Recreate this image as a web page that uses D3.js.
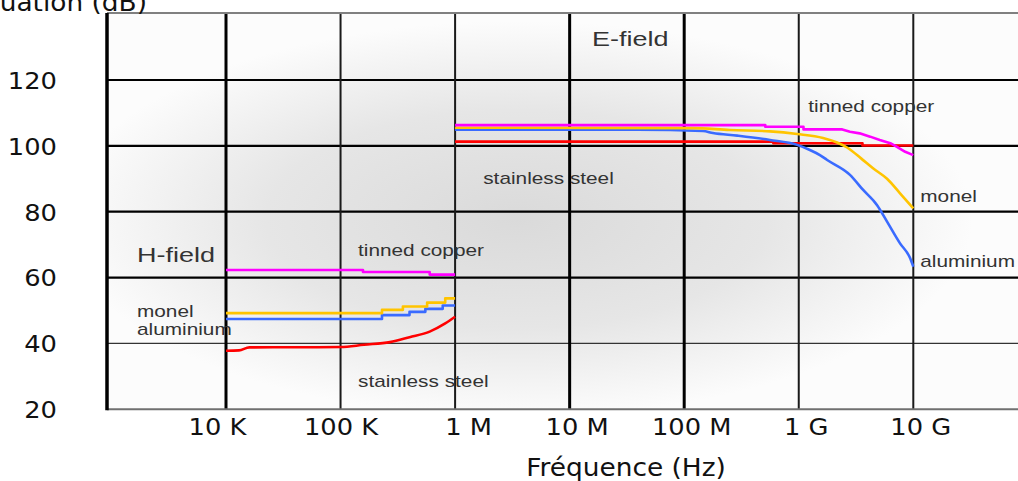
<!DOCTYPE html>
<html>
<head>
<meta charset="utf-8">
<script src="https://cdn.jsdelivr.net/npm/d3@7"></script>
<style>
  body { margin: 0; background: #fff; }
  svg { display: block; }
</style>
</head>
<body>
<svg id="chart" width="1018" height="481"></svg>
<script>
// Frequencies in Hz, attenuation in dB.
const freqTicks = [1e4, 1e5, 1e6, 1e7, 1e8, 1e9, 1e10];
const freqTickLabels = ['10 K', '100 K', '1 M', '10 M', '100 M', '1 G', '10 G'];
const dbTicks = [20, 40, 60, 80, 100, 120];

// H-field (10 kHz .. 1 MHz)
const hCopper = [[1e4, 62.3], [1.57e5, 62.3], [1.57e5, 61.7], [6e5, 61.7], [6e5, 60.9], [1e6, 60.9]];
const hMonel = [[1e4, 49.2], [2.3e5, 49.2], [2.3e5, 50.2], [3.5e5, 50.2], [3.5e5, 51.2], [5.7e5, 51.2],
  [5.7e5, 52.4], [8.2e5, 52.4], [8.2e5, 53.7], [1e6, 53.7]];
const hAluminium = [[1e4, 47.4], [2.3e5, 47.4], [2.3e5, 48.6], [4e5, 48.6], [4e5, 49.6], [5.5e5, 49.6],
  [5.5e5, 50.5], [7.8e5, 50.5], [7.8e5, 51.5], [1e6, 51.5]];
const hSteel = [[1e4, 37.8], [1.3e4, 37.9], [1.6e4, 38.8], [1e5, 38.9], [1.6e5, 39.6], [2.7e5, 40.4],
  [4e5, 41.9], [6e5, 43.6], [8.2e5, 46.1], [1e6, 48.1]];

// E-field (1 MHz .. 10 GHz)
const eCopper = [[1e6, 106.3], [5.1e8, 106.3], [5.1e8, 105.8], [1.1e9, 105.8], [1.1e9, 105.0], [2.4e9, 105.0],
  [2.8e9, 104.3], [3.4e9, 103.8], [4.2e9, 102.8], [5.1e9, 101.8], [6.3e9, 100.8], [7.2e9, 99.7],
  [8.5e9, 98.2], [1e10, 97.2]];
const eMonel = [[1e6, 105.5], [1.2e8, 105.4], [2.5e8, 104.8], [5.6e8, 104.4], [9.7e8, 103.6], [1.63e9, 102.4],
  [2.16e9, 101.0], [2.64e9, 99.5], [3.5e9, 96.2], [4.45e9, 93.2], [5.9e9, 90.0], [7.66e9, 85.6], [1e10, 81.0]];
const eAluminium = [[1e6, 104.9], [3.9e7, 104.9], [1.46e8, 104.5], [1.78e8, 103.9], [2.9e8, 103.1],
  [5.6e8, 101.8], [9.7e8, 100.3], [1.25e9, 98.75], [1.53e9, 97.2], [1.77e9, 95.7], [2.8e9, 91.2],
  [3.65e9, 86.6], [4.83e9, 82.0], [5.9e9, 77.0], [7.66e9, 70.4], [9.35e9, 66.0], [1e10, 63.3]];
const eSteel = [[1e6, 101.3], [6e8, 101.3], [6e8, 100.8], [3.6e9, 100.8], [3.6e9, 100.1], [1e10, 100.1]];

// Annotations, anchored in data space (left end / baseline).
const noteText = ['E-field', 'tinned copper', 'stainless steel', 'monel', 'aluminium',
  'H-field', 'tinned copper', 'monel', 'aluminium', 'stainless steel'];
const noteFreq = [1.57e7, 1.21e9, 1.76e6, 1.15e10, 1.15e10, 1.67e3, 1.42e5, 1.67e3, 1.67e3, 1.42e5];
const noteDb = [130.3, 110.4, 88.4, 82.9, 63.3, 64.8, 66.6, 48.1, 42.6, 26.7];
const noteBig = [true, false, false, false, false, true, false, false, false, false];

const svg = d3.select('#chart');
const plot = { left: 107, top: 13, right: 1018, bottom: 409.3 };

const x = d3.scaleLog().domain([1e4, 1e10]).range([226, 913.3]);
const y = d3.scaleLinear().domain([20, 120]).range([409.3, 80]);

// grey shaded background of the plot
const defs = svg.append('defs');
const grad = defs.append('radialGradient').attr('id', 'bg')
  .attr('cx', 0.45).attr('cy', 0.52).attr('r', 0.5);
grad.append('stop').attr('offset', 0).attr('stop-color', '#dadada');
grad.append('stop').attr('offset', 0.55).attr('stop-color', '#e6e6e6');
grad.append('stop').attr('offset', 1).attr('stop-color', '#fcfcfc');

svg.append('rect')
  .attr('x', plot.left).attr('y', plot.top)
  .attr('width', plot.right - plot.left).attr('height', plot.bottom - plot.top)
  .attr('fill', '#fcfcfc');
svg.append('rect')
  .attr('x', plot.left).attr('y', plot.top)
  .attr('width', plot.right - plot.left).attr('height', plot.bottom - plot.top)
  .attr('fill', 'url(#bg)');

// grid
const heavyFreq = new Set([1e4, 1e7, 1e8]);
const grid = svg.append('g').attr('class', 'grid');
grid.selectAll('line.h')
  .data(dbTicks.filter(d => d > 20))
  .join('line')
  .attr('class', 'h')
  .attr('x1', plot.left).attr('x2', plot.right)
  .attr('y1', d => y(d)).attr('y2', d => y(d))
  .attr('stroke', d => d === 40 ? '#333' : '#000')
  .attr('stroke-width', d => d === 40 ? 1.2 : 2.2);

grid.selectAll('line.v')
  .data(freqTicks)
  .join('line')
  .attr('class', 'v')
  .attr('x1', d => x(d)).attr('x2', d => x(d))
  .attr('y1', plot.top).attr('y2', plot.bottom)
  .attr('stroke', d => heavyFreq.has(d) ? '#000' : '#1a1a1a')
  .attr('stroke-width', d => heavyFreq.has(d) ? 3 : 2);

// frame
svg.append('line').attr('x1', plot.left).attr('x2', plot.right)
  .attr('y1', plot.top).attr('y2', plot.top).attr('stroke', '#808080').attr('stroke-width', 2);
svg.append('line').attr('x1', plot.left).attr('x2', plot.right)
  .attr('y1', plot.bottom).attr('y2', plot.bottom).attr('stroke', '#707070').attr('stroke-width', 2);
svg.append('line').attr('x1', plot.left).attr('x2', plot.left)
  .attr('y1', plot.top).attr('y2', plot.bottom + 1).attr('stroke', '#000').attr('stroke-width', 3.5);

// curves: stepped ones straight, rolled-off ones smoothed
const straight = d3.line().x(d => x(d[0])).y(d => y(d[1]));
const smooth = d3.line().x(d => x(d[0])).y(d => y(d[1])).curve(d3.curveMonotoneX);
const curves = [
  { pts: hSteel, color: '#ff0000', smooth: true },
  { pts: hAluminium, color: '#3a6bff' },
  { pts: hMonel, color: '#ffc400' },
  { pts: hCopper, color: '#ff00ff' },
  { pts: eSteel, color: '#ff0000' },
  { pts: eAluminium, color: '#3a6bff', smooth: true },
  { pts: eMonel, color: '#ffc400', smooth: true },
  { pts: eCopper, color: '#ff00ff' }
];
svg.append('g').selectAll('path')
  .data(curves)
  .join('path')
  .attr('d', d => (d.smooth ? smooth : straight)(d.pts))
  .attr('fill', 'none')
  .attr('stroke', d => d.color)
  .attr('stroke-width', 2.6)
  .attr('stroke-linejoin', 'round');

// annotations (the source image is stretched horizontally)
svg.append('g').selectAll('text')
  .data(noteText.map((t, i) => ({ t, f: noteFreq[i], v: noteDb[i], big: noteBig[i] })))
  .join('text')
  .attr('transform', d => `translate(${x(d.f)},${y(d.v)}) scale(${d.big ? 1.35 : 1.3},1)`)
  .attr('font-family', '"Liberation Sans", Arial, sans-serif')
  .attr('font-size', d => d.big ? 20 : 16)
  .attr('fill', '#333')
  .text(d => d.t);

// axes labels
const tickFont = '"DejaVu Sans", Verdana, sans-serif';
const tickNudge = { 1e4: -9, 1e5: 0, 1e6: 13 };
const xAxis = svg.append('g')
  .attr('transform', `translate(0,${plot.bottom})`)
  .call(d3.axisBottom(x).tickValues(freqTicks).tickFormat((d, i) => freqTickLabels[i]).tickSize(0));
xAxis.select('.domain').remove();
xAxis.selectAll('text')
  .attr('font-family', tickFont).attr('font-size', 23).attr('fill', '#111')
  .attr('y', 26).attr('dy', 0)
  .attr('transform', d => `translate(${tickNudge[d] !== undefined ? tickNudge[d] : 7},0) scale(1.12,1)`);

const yAxis = svg.append('g')
  .attr('transform', 'translate(57,0)')
  .call(d3.axisLeft(y).tickValues(dbTicks).tickSize(0));
yAxis.select('.domain').remove();
yAxis.selectAll('text')
  .attr('font-family', tickFont).attr('font-size', 23).attr('fill', '#111')
  .attr('x', 0).attr('dy', '0.36em')
  .attr('transform', 'scale(1.12,1)');

svg.append('text')
  .attr('transform', 'translate(147,11) scale(1.1,1)')
  .attr('text-anchor', 'end')
  .attr('font-family', tickFont).attr('font-size', 24).attr('fill', '#111')
  .text('Atténuation (dB)');

svg.append('text')
  .attr('transform', 'translate(626,476) scale(1.1,1)')
  .attr('text-anchor', 'middle')
  .attr('font-family', tickFont).attr('font-size', 24).attr('fill', '#111')
  .text('Fréquence (Hz)');
</script>
</body>
</html>
